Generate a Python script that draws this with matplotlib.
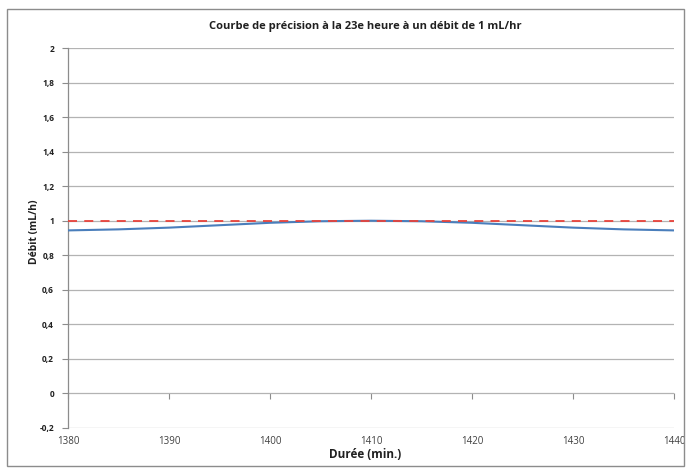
import matplotlib
matplotlib.use("Agg")
import matplotlib.pyplot as plt
from matplotlib.patches import Rectangle

# Data
duree = [1380, 1385, 1390, 1395, 1400, 1405, 1410, 1415, 1420, 1425, 1430, 1435, 1440]
debit = [0.944, 0.950, 0.960, 0.974, 0.988, 0.997, 1.000, 0.997, 0.988, 0.974, 0.960, 0.950, 0.944]
consigne = [1.0] * len(duree)
x_ticks = [1380, 1390, 1400, 1410, 1420, 1430, 1440]
y_ticks = [-0.2, 0, 0.2, 0.4, 0.6, 0.8, 1, 1.2, 1.4, 1.6, 1.8, 2]
y_labels = ["-0,2", "0", "0,2", "0,4", "0,6", "0,8", "1", "1,2", "1,4", "1,6", "1,8", "2"]

plt.rcParams['font.family'] = ['Open Sans', 'DejaVu Sans']

fig = plt.figure(figsize=(6.9, 4.72), dpi=100)
L, R, T, B = 68, 674, 48, 428
ax = fig.add_axes([L/690, 1-B/472, (R-L)/690, (B-T)/472])

# outer chart border
fig.patches.append(Rectangle((7/690, 1-466/472), (684-7)/690, (466-9)/472,
                             transform=fig.transFigure, fill=False,
                             edgecolor="#8c8c8c", linewidth=1.0))

ax.plot(duree, debit, color="#4a7ebb", linewidth=1.5, zorder=3)
ax.plot(duree, consigne, color="#e8423a", linewidth=1.3, linestyle=(0, (5, 4)), zorder=4)

ax.set_xlim(1380, 1440)
ax.set_ylim(-0.2, 2)
ax.set_yticks(y_ticks)
ax.set_yticklabels(y_labels, fontsize=6, fontweight='bold')
ax.set_xticks(x_ticks)
ax.set_xticklabels([str(t) for t in x_ticks], fontsize=7)
ax.tick_params(axis='x', length=0, pad=6, colors="#404040")
ax.tick_params(axis='y', length=4, direction='out', color="#8c8c8c", pad=6, labelcolor="#202020")

for yv in y_ticks:
    ax.axhline(yv, color="#b3b3b3", linewidth=0.9, zorder=1)

for s in ['top', 'right', 'bottom']:
    ax.spines[s].set_visible(False)
ax.spines['left'].set_color("#8c8c8c")
ax.spines['left'].set_linewidth(0.9)

# horizontal axis crossing at 0 with tick marks
sec = ax.secondary_xaxis(0.2 / 2.2)
sec.set_xticks(x_ticks)
sec.set_xticklabels([])
sec.tick_params(length=4, direction='out', color="#8c8c8c")
sec.spines['bottom'].set_visible(False)

fig.text(365/690, 1-26/472, "Courbe de précision à la 23e heure à un débit de 1 mL/hr",
         fontsize=8, fontweight='bold', ha='center', va='center', color="#202020")
ax.set_xlabel("Durée (min.)", fontsize=8.5, fontweight='bold', color="#202020")
ax.xaxis.set_label_coords((365 - L) / (R - L), -(455 - B) / (B - T), transform=ax.transAxes)
ax.xaxis.label.set_va('center')
ax.set_ylabel("Débit (mL/h)", fontsize=7.5, fontweight='bold', color="#202020")
ax.yaxis.set_label_coords(-(L - 34) / (R - L), (B - 232) / (B - T), transform=ax.transAxes)
ax.yaxis.label.set_va('center')

fig.savefig("out.png", dpi=100)
